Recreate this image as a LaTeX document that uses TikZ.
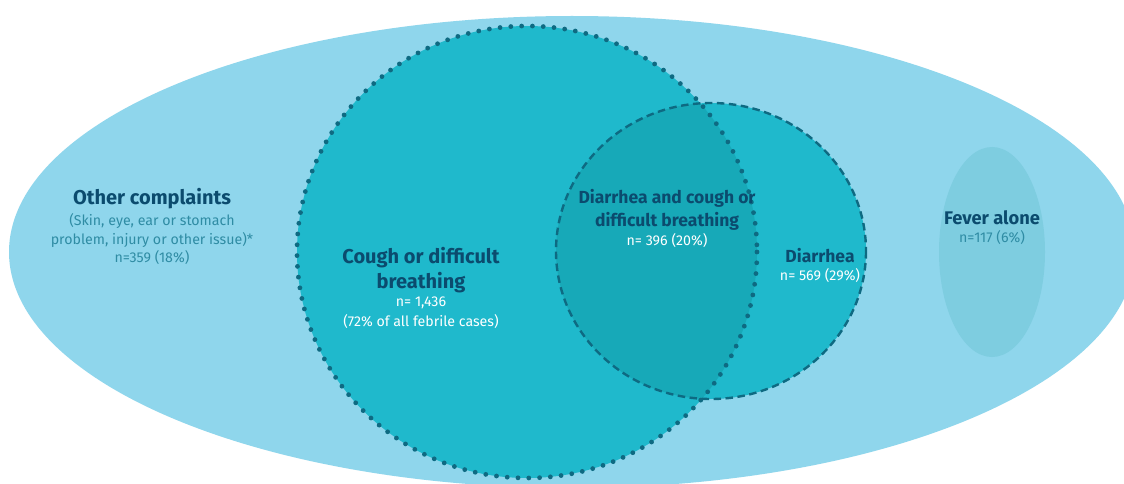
\documentclass[tikz,border=0pt]{standalone}
\usepackage{fontspec}
\setmainfont{Fira Sans}
\definecolor{outerblue}{HTML}{8FD6EC}
\definecolor{circblue}{HTML}{1FB9CC}
\definecolor{interblue}{HTML}{17A9B8}
\definecolor{feverblue}{HTML}{7ECDE0}
\definecolor{dotcol}{HTML}{0E6A82}
\definecolor{navy}{HTML}{0B4B6E}
\definecolor{tealtxt}{HTML}{2F8CA4}
\tikzset{
  title/.style={font=\fontsize{20}{22}\selectfont\bfseries, text=navy, inner sep=0pt},
  titles/.style={font=\fontsize{17.5}{19}\selectfont\bfseries, text=navy, inner sep=0pt},
  sub/.style={font=\fontsize{14.2}{16}\selectfont, text=tealtxt, inner sep=0pt},
  subw/.style={font=\fontsize{14.2}{16}\selectfont, text=white, inner sep=0pt},
  dotline/.style={draw=dotcol, line width=4.8pt, line cap=round, dash pattern=on 0pt off 10.8pt},
  dashline/.style={draw=dotcol, line width=2.4pt, dash pattern=on 7.5pt off 4.5pt},
}
\begin{document}
\begin{tikzpicture}[x=1pt,y=-1pt]
\useasboundingbox (0,0) rectangle (1124,484);
\fill[white] (0,0) rectangle (1124,484);
\begin{scope}
\clip (0,0) rectangle (1124,484);
% outer ellipse
\fill[outerblue] (572,252) ellipse [x radius=563, y radius=236];
% fever alone
\fill[feverblue] (992,252) ellipse [x radius=53, y radius=105];
% big circle
\fill[circblue] (527,252) ellipse [x radius=230, y radius=226];
% diarrhea circle
\fill[circblue] (711,251) ellipse [x radius=155, y radius=148];
% intersection
\begin{scope}
\clip (527,252) ellipse [x radius=230, y radius=226];
\fill[interblue] (711,251) ellipse [x radius=155, y radius=148];
\end{scope}
\draw[dashline] (711,251) ellipse [x radius=155, y radius=148];
\draw[dotline] (527,252) ellipse [x radius=230, y radius=226];
\end{scope}
% labels
\node[title] (oc1) at (152,199) {Other complaints};
\node[sub] (oc2) at (152,221) {(Skin, eye, ear or stomach};
\node[sub] (oc3) at (152,240) {problem, injury or other issue)*};
\node[sub] (oc4) at (152,258) {n=359 (18\%)};
\node[title] (cb1) at (421,258) {Cough or difficult};
\node[title] (cb2) at (421,283) {breathing};
\node[subw] (cb3) at (421,303) {n= 1,436};
\node[subw] (cb4) at (421,322) {(72\% of all febrile cases)};
\node[titles] (dc1) at (667,198) {Diarrhea and cough or};
\node[titles] (dc2) at (667,221) {difficult breathing};
\node[subw] (dc3) at (667,241) {n= 396 (20\%)};
\node[titles] (d1) at (820,256) {Diarrhea};
\node[subw] (d2) at (820,276) {n= 569 (29\%)};
\node[titles, font=\fontsize{18.3}{20}\selectfont\bfseries] (f1) at (992,218) {Fever alone};
\node[sub] (f2) at (992,238) {n=117 (6\%)};
\end{tikzpicture}
\end{document}
